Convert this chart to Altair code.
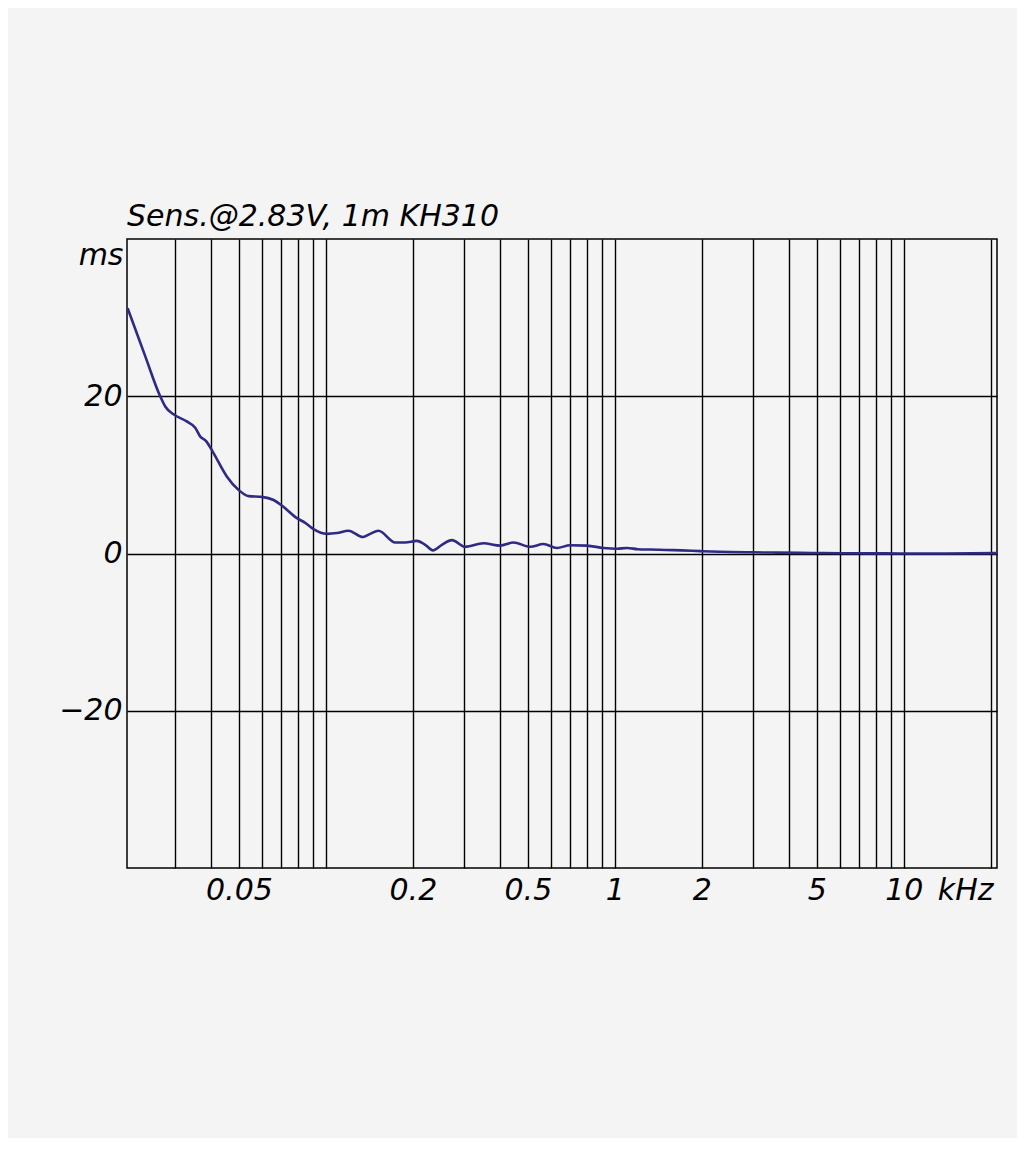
import altair as alt
import pandas as pd

# Group delay curve (kHz, ms)
freq_khz = [0.0206, 0.0237, 0.0267, 0.0278, 0.0297, 0.0330, 0.0353, 0.0367, 0.0385,
            0.0408, 0.0454, 0.0498, 0.0540, 0.0601, 0.0659, 0.0704, 0.0794, 0.0848,
            0.0906, 0.1008, 0.1092, 0.1197, 0.1343, 0.1423, 0.152, 0.1738, 0.188,
            0.2065, 0.2207, 0.2345, 0.252, 0.273, 0.3034, 0.351, 0.401, 0.4458,
            0.509, 0.566, 0.630, 0.700, 0.800, 0.913, 1.016, 1.1, 1.2, 1.325, 1.5,
            1.7, 1.973, 2.3, 2.99, 3.5, 4.38, 5.2, 6.52, 8.0, 9.7, 14.0, 21.0]
delay_ms = [31.2, 25.1, 20.0, 18.7, 17.7, 16.8, 16.0, 14.9, 14.3,
            12.8, 9.8, 8.1, 7.3, 7.2, 6.8, 6.1, 4.5, 3.9,
            3.1, 2.5, 2.6, 2.9, 2.1, 2.5, 2.9, 1.4, 1.4,
            1.6, 1.1, 0.4, 1.1, 1.7, 0.85, 1.3, 1.0, 1.4,
            0.85, 1.2, 0.7, 1.05, 1.0, 0.7, 0.6, 0.7, 0.55, 0.5, 0.45,
            0.4, 0.3, 0.22, 0.15, 0.12, 0.08, 0.06, 0.03, 0.02, 0.0, 0.0, 0.05]

grid_freqs = [0.03, 0.04, 0.05, 0.06, 0.07, 0.08, 0.09, 0.1, 0.2, 0.3, 0.4, 0.5,
              0.6, 0.7, 0.8, 0.9, 1, 2, 3, 4, 5, 6, 7, 8, 9, 10, 20]
label_freqs = [0.05, 0.2, 0.5, 1, 2, 5, 10]
y_ticks = [-20, 0, 20]

title_text = "Sens.@2.83V, 1m KH310"
x_unit = "kHz"
y_unit = "ms"

FONT = "DejaVu Sans"
FS = 30

df = pd.DataFrame({"f": freq_khz, "t": delay_ms})

label_expr = ("indexof([" + ",".join(str(v) for v in label_freqs) +
              "], datum.value) >= 0 ? format(datum.value, '~g') : ''")

chart = alt.Chart(df).mark_line(
    color="#2e2a86", strokeWidth=2.6, interpolate="monotone"
).encode(
    x=alt.X("f:Q",
            scale=alt.Scale(type="log", domain=[0.0205, 21], nice=False),
            axis=alt.Axis(values=grid_freqs, labelExpr=label_expr,
                          grid=True, gridColor="black", gridWidth=1.4, gridOpacity=1,
                          ticks=False, domain=False,
                          labelFont=FONT, labelFontSize=FS, labelFontStyle="italic",
                          labelColor="black", labelBaseline="alphabetic",
                          labelPadding=31, labelOverlap=False, labelFlush=False,
                          title=x_unit, titleFont=FONT, titleFontSize=FS,
                          titleFontStyle="italic", titleFontWeight="normal",
                          titleColor="black", titleAlign="right",
                          titleBaseline="alphabetic", titleX=866, titleY=31)),
    y=alt.Y("t:Q",
            scale=alt.Scale(domain=[-40, 40], nice=False),
            axis=alt.Axis(values=y_ticks,
                          grid=True, gridColor="black", gridWidth=1.4, gridOpacity=1,
                          ticks=False, domain=False,
                          labelFont=FONT, labelFontSize=FS, labelFontStyle="italic",
                          labelColor="black", labelPadding=5,
                          title=y_unit, titleFont=FONT, titleFontSize=FS,
                          titleFontStyle="italic", titleFontWeight="normal",
                          titleColor="black", titleAngle=0, titleAlign="right",
                          titleBaseline="alphabetic", titleX=-4, titleY=25)),
).properties(
    width=870, height=629,
    title=alt.TitleParams(title_text, anchor="start", frame="group", font=FONT,
                          fontSize=FS, fontStyle="italic", fontWeight="normal",
                          color="black", offset=12, baseline="alphabetic", dy=29),
    background="#f4f4f4",
    padding={"left": 119, "top": 231, "right": 20, "bottom": 270},
    autosize=alt.AutoSizeParams(type="none"),
).configure_view(stroke="black", strokeWidth=1.5)

chart.save("out.html", embed_options={"renderer": "svg", "actions": False})
